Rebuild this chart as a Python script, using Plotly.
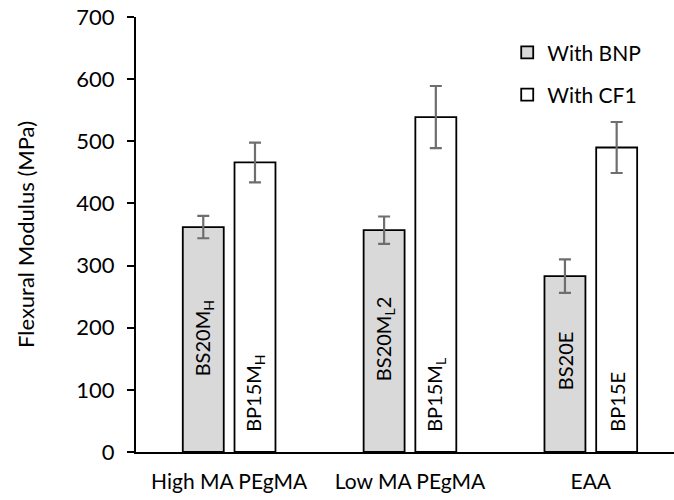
import plotly.graph_objects as go

# Flexural modulus by compatibiliser type
categories = ["High MA PEgMA", "Low MA PEgMA", "EAA"]
bnp_modulus = [362, 357, 283]
bnp_error = [18, 22, 27]
cf1_modulus = [466, 539, 490]
cf1_error = [32, 50, 41]
bnp_labels = ["BS20M<sub>H</sub>", "BS20M<sub>L</sub>2", "BS20E"]
cf1_labels = ["BP15M<sub>H</sub>", "BP15M<sub>L</sub>", "BP15E"]
y_ticks = [0, 100, 200, 300, 400, 500, 600, 700]

# layout constants
FONT = "Lato, 'Open Sans', sans-serif"
BAR_W = 0.2265
HALF_SEP = 0.143
bnp_label_base = [119, 111, 97]
cf1_label_base = [30, 29, 29]

x_pos = list(range(len(categories)))

fig = go.Figure()
fig.add_trace(go.Bar(
    x=x_pos, y=bnp_modulus, name="With BNP", legendgroup="a",
    width=BAR_W, offset=-HALF_SEP - BAR_W / 2,
    marker=dict(color="#d9d9d9", line=dict(color="black", width=1.8)),
    error_y=dict(type="data", array=bnp_error, color="#6e6e6e", thickness=2.2, width=6),
))
fig.add_trace(go.Bar(
    x=x_pos, y=cf1_modulus, name="With CF1", legendgroup="b",
    width=BAR_W, offset=HALF_SEP - BAR_W / 2,
    marker=dict(color="white", line=dict(color="black", width=1.8)),
    error_y=dict(type="data", array=cf1_error, color="#6e6e6e", thickness=2.2, width=6),
))

# vertical sample names inside the bars
for i in x_pos:
    for dx, txt, base in ((-HALF_SEP, bnp_labels[i], bnp_label_base[i]),
                          (HALF_SEP, cf1_labels[i], cf1_label_base[i])):
        fig.add_annotation(
            x=i + dx, y=base, xref="x", yref="y", text=txt, textangle=-90,
            showarrow=False, xanchor="center", yanchor="bottom",
            font=dict(family=FONT, size=20, color="black"),
        )

fig.update_layout(
    width=674, height=500,
    margin=dict(l=136, r=0, t=17, b=48),
    paper_bgcolor="white", plot_bgcolor="white",
    barmode="overlay",
    font=dict(family=FONT, size=21, color="black"),
    showlegend=True,
    legend=dict(
        x=0.69, y=0.965, xanchor="left", yanchor="top",
        bgcolor="rgba(0,0,0,0)", tracegroupgap=12,
        font=dict(family=FONT, size=21, color="black"),
        itemwidth=30,
    ),
    xaxis=dict(
        range=[-0.515, 2.46], tickvals=x_pos, ticktext=categories,
        showline=True, linecolor="black", linewidth=2,
        ticks="", showgrid=False, zeroline=False,
        ticklabelstandoff=10,
        tickfont=dict(family=FONT, size=21),
    ),
    yaxis=dict(
        range=[0, 700], tickvals=y_ticks,
        showline=True, linecolor="black", linewidth=2,
        ticks="outside", ticklen=7, tickwidth=2, tickcolor="black",
        showgrid=False, zeroline=False,
        ticklabelstandoff=8,
        tickfont=dict(family=FONT, size=22),
        title=dict(text="Flexural Modulus (MPa)", standoff=36,
                   font=dict(family=FONT, size=22)),
    ),
)

fig.write_html("out.html")
